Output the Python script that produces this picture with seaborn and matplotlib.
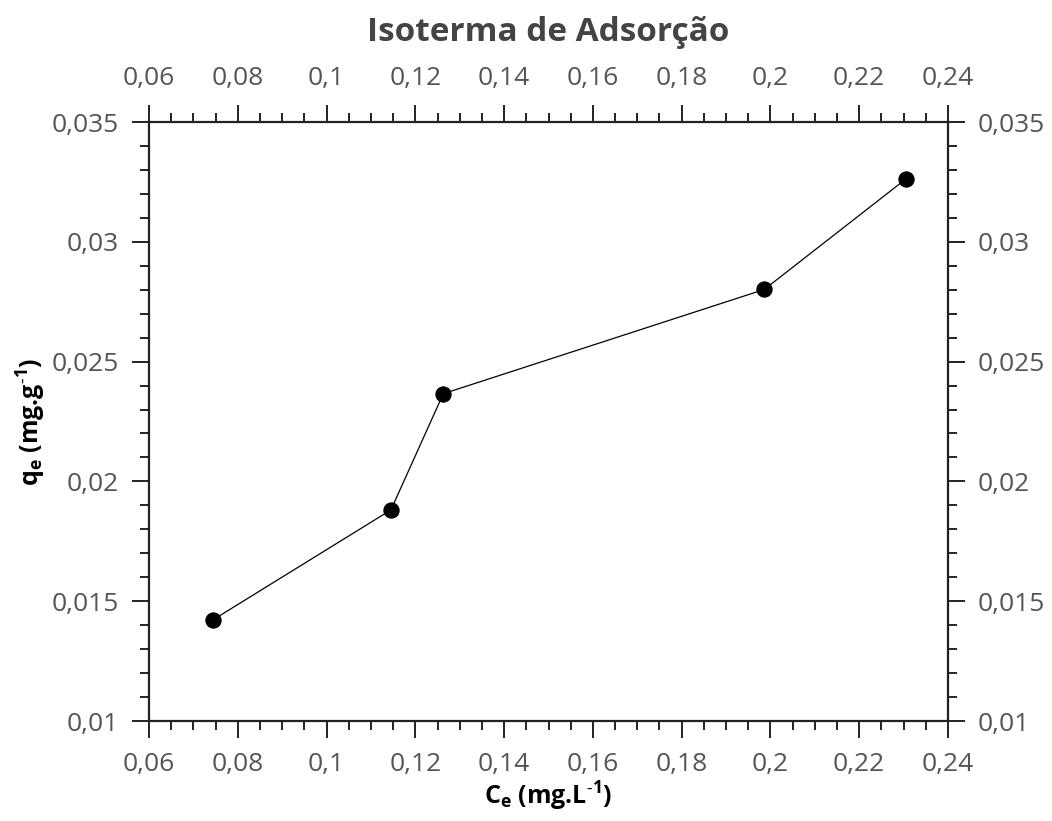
import matplotlib
matplotlib.use("Agg")
import matplotlib.pyplot as plt
import seaborn as sns
import pandas as pd
from matplotlib.ticker import MultipleLocator, FuncFormatter

ce = [0.0744, 0.1145, 0.1263, 0.1986, 0.2305]
qe = [0.01422, 0.01881, 0.02366, 0.02801, 0.03262]

title = "Isoterma de Adsorção"
xlabel = r"C$_\mathregular{e}$ (mg.L$^\mathregular{‐1}$)"
ylabel = r"q$_\mathregular{e}$ (mg.g$^\mathregular{‐1}$)"

sns.set_theme(style="white")
plt.rcParams['font.family'] = ['Open Sans', 'DejaVu Sans']
plt.rcParams['mathtext.default'] = 'regular'

df = pd.DataFrame({"Ce": ce, "qe": qe})

fig = plt.figure(figsize=(10.52, 8.21), dpi=100)
ax = fig.add_axes([149/1052, 1-721/821, (948-149)/1052, (721-122)/821])

sns.lineplot(data=df, x="Ce", y="qe", ax=ax, color="black", linewidth=0.9,
             marker="o", markersize=11, markeredgecolor="black",
             markerfacecolor="black", sort=False)

ax.set_xlim(0.06, 0.24)
ax.set_ylim(0.01, 0.035)
ax.xaxis.set_major_locator(MultipleLocator(0.02))
ax.xaxis.set_minor_locator(MultipleLocator(0.005))
ax.yaxis.set_major_locator(MultipleLocator(0.005))
ax.yaxis.set_minor_locator(MultipleLocator(0.001))

fmt = FuncFormatter(lambda v, p: f"{round(v, 6):g}".replace('.', ','))
ax.xaxis.set_major_formatter(fmt)
ax.yaxis.set_major_formatter(fmt)

ax.tick_params(which='both', direction='out', top=True, right=True,
               bottom=True, left=True, labeltop=True, labelright=True,
               color='#222222', width=1.4, labelsize=19, labelcolor='#555555')
ax.tick_params(which='major', length=12.5)
ax.tick_params(which='minor', length=6.5)
ax.tick_params(axis='x', which='major', pad=10)
ax.tick_params(axis='y', which='major', pad=9)

for s in ax.spines.values():
    s.set_color('#222222')
    s.set_linewidth(1.6)

ax.set_xlabel(xlabel, fontsize=18, fontweight='bold', color='black', labelpad=2)
ax.set_ylabel(ylabel, fontsize=18, fontweight='bold', color='black', labelpad=3)
ax.set_title(title, fontsize=24, fontweight='bold', color='#444444', pad=18)

fig.savefig("out.png", dpi=100)
